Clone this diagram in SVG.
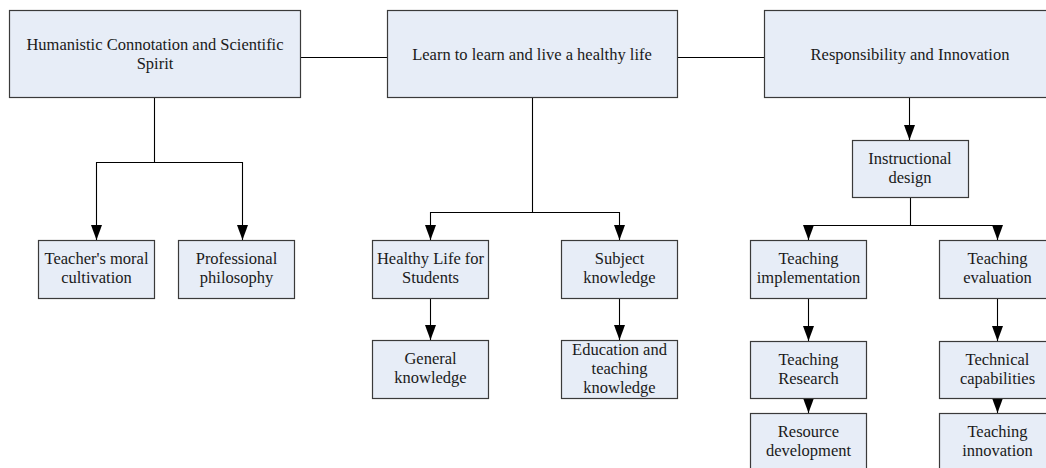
<svg xmlns="http://www.w3.org/2000/svg" width="1046" height="468" viewBox="0 0 1046 468">
<style>
.box{fill:#e7edf7;stroke:#3a3a3a;stroke-width:1.2}
.t{font-family:"Liberation Serif","Times New Roman",serif;font-size:16.5px;fill:#1a1a1a;text-anchor:middle}
.c{fill:none;stroke:#000;stroke-width:1.1}
</style>
<defs>
<marker id="ad" markerUnits="userSpaceOnUse" markerWidth="16" markerHeight="12" refX="15" refY="6" orient="auto" viewBox="0 0 16 12">
<path d="M0,0.5 L15,6 L0,11.5 Z" fill="#000"/>
</marker>
</defs>
<g id="connectors">
<path class="c" d="M300,57.5 H387"/>
<path class="c" d="M677,57.5 H764"/>
<path class="c" d="M154.5,97 V162.5 H96.5 V240" marker-end="url(#ad)"/>
<path class="c" d="M154.5,162.5 H242.5 V240" marker-end="url(#ad)"/>
<path class="c" d="M532.5,97 V212.5 H430.5 V240" marker-end="url(#ad)"/>
<path class="c" d="M532.5,212.5 H619.5 V240" marker-end="url(#ad)"/>
<path class="c" d="M430.5,298 V340" marker-end="url(#ad)"/>
<path class="c" d="M619.5,298 V340" marker-end="url(#ad)"/>
<path class="c" d="M909.5,97 V140" marker-end="url(#ad)"/>
<path class="c" d="M910.5,197 V225.5 H808.5 V240" marker-end="url(#ad)"/>
<path class="c" d="M910.5,225.5 H997.5 V240" marker-end="url(#ad)"/>
<path class="c" d="M808.5,298 V341" marker-end="url(#ad)"/>
<path class="c" d="M997.5,298 V341" marker-end="url(#ad)"/>
<path class="c" d="M808.5,398 V413" marker-end="url(#ad)"/>
<path class="c" d="M997.5,398 V413" marker-end="url(#ad)"/>
</g>
<g id="n1"><rect class="box" x="9.5" y="10.5" width="291" height="87"/><text class="t" x="155" y="50">Humanistic Connotation and Scientific</text><text class="t" x="155" y="69">Spirit</text></g>
<g id="n2"><rect class="box" x="387.5" y="10.5" width="290" height="87"/><text class="t" x="532" y="60">Learn to learn and live a healthy life</text></g>
<g id="n3"><rect class="box" x="764.5" y="10.5" width="292" height="87"/><text class="t" x="910" y="60">Responsibility and Innovation</text></g>
<g id="n4"><rect class="box" x="852.5" y="140.5" width="116" height="57"/><text class="t" x="910" y="164">Instructional</text><text class="t" x="910" y="183">design</text></g>
<g id="n5"><rect class="box" x="38.5" y="240.5" width="116" height="58"/><text class="t" x="96.5" y="264">Teacher's moral</text><text class="t" x="96.5" y="283">cultivation</text></g>
<g id="n6"><rect class="box" x="178.5" y="240.5" width="116" height="58"/><text class="t" x="236.5" y="264">Professional</text><text class="t" x="236.5" y="283">philosophy</text></g>
<g id="n7"><rect class="box" x="372.5" y="240.5" width="116" height="58"/><text class="t" x="430.5" y="264">Healthy Life for</text><text class="t" x="430.5" y="283">Students</text></g>
<g id="n8"><rect class="box" x="561.5" y="240.5" width="116" height="58"/><text class="t" x="619.5" y="264">Subject</text><text class="t" x="619.5" y="283">knowledge</text></g>
<g id="n9"><rect class="box" x="372.5" y="340.5" width="116" height="58"/><text class="t" x="430.5" y="364">General</text><text class="t" x="430.5" y="383">knowledge</text></g>
<g id="n10"><rect class="box" x="561.5" y="340.5" width="116" height="58"/><text class="t" x="619.5" y="355">Education and</text><text class="t" x="619.5" y="374">teaching</text><text class="t" x="619.5" y="393">knowledge</text></g>
<g id="n11"><rect class="box" x="750.5" y="240.5" width="116" height="58"/><text class="t" x="808.5" y="264">Teaching</text><text class="t" x="808.5" y="283">implementation</text></g>
<g id="n12"><rect class="box" x="939.5" y="240.5" width="116" height="58"/><text class="t" x="997.5" y="264">Teaching</text><text class="t" x="997.5" y="283">evaluation</text></g>
<g id="n13"><rect class="box" x="750.5" y="341.5" width="116" height="57"/><text class="t" x="808.5" y="365">Teaching</text><text class="t" x="808.5" y="384">Research</text></g>
<g id="n14"><rect class="box" x="939.5" y="341.5" width="116" height="57"/><text class="t" x="997.5" y="365">Technical</text><text class="t" x="997.5" y="384">capabilities</text></g>
<g id="n15"><rect class="box" x="750.5" y="413.5" width="116" height="58"/><text class="t" x="808.5" y="437">Resource</text><text class="t" x="808.5" y="456">development</text></g>
<g id="n16"><rect class="box" x="939.5" y="413.5" width="116" height="58"/><text class="t" x="997.5" y="437">Teaching</text><text class="t" x="997.5" y="456">innovation</text></g>
</svg>
